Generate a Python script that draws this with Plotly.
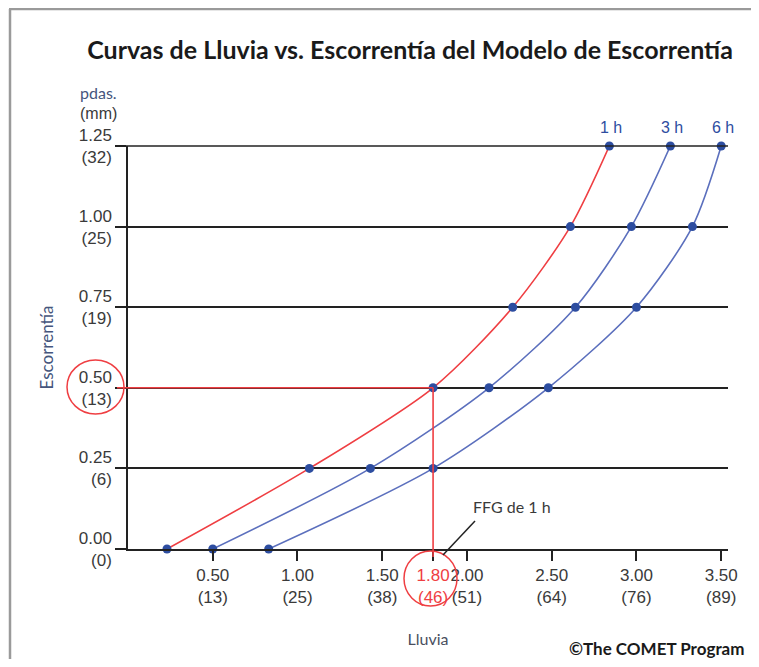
import plotly.graph_objects as go

# runoff (inches) for each curve point, and rainfall (inches) per duration
runoff = [0.00, 0.25, 0.50, 0.75, 1.00, 1.25]
rain_1h = [0.23, 1.07, 1.80, 2.27, 2.61, 2.84]
rain_3h = [0.50, 1.43, 2.13, 2.64, 2.97, 3.20]
rain_6h = [0.83, 1.80, 2.48, 3.00, 3.33, 3.50]
curve_names = ['1 h', '3 h', '6 h']

x_ticks = [0.50, 1.00, 1.50, 1.80, 2.00, 2.50, 3.00, 3.50]
x_mm = ['13', '25', '38', '46', '51', '64', '76', '89']
y_ticks = [0.00, 0.25, 0.50, 0.75, 1.00, 1.25]
y_mm = ['0', '6', '13', '19', '25', '32']

ffg_rain = 1.80
ffg_runoff = 0.50

# the page body adds an 8px margin, so the figure is sized to fit inside it
OFF = 8
W, H = 759 - OFF, 667 - 2 * OFF
L, T = 120, 138
PW, PH = 600, 403
R, B = W - L - PW, H - T - PH
XMAX = 3.54
YMAX = 1.25

RED = '#ef3e42'
BLUE = '#5b6fbd'
DOT = '#2d4da0'
INK = '#3a3a3a'
LABEL = '#45557c'


def px_x(px):
    # page pixel -> paper x
    return (px - OFF - L) / PW


def px_y(py):
    # page pixel -> paper y
    return (T + PH - (py - OFF)) / PH


x_text = []
for v, mm in zip(x_ticks, x_mm):
    if v == ffg_rain:
        x_text.append(f"<span style='color:{RED}'>{v:.2f}</span><br>"
                      f"<span style='color:{RED}'>({mm})</span>")
    else:
        x_text.append(f"{v:.2f}<br>({mm})")
y_text = [f"{v:.2f}<br>({mm})" for v, mm in zip(y_ticks, y_mm)]

fig = go.Figure()

for rain, name, col in zip([rain_1h, rain_3h, rain_6h], curve_names, [RED, BLUE, BLUE]):
    fig.add_trace(go.Scatter(
        x=rain, y=runoff, mode='lines+markers', name=name,
        line={'color': col, 'width': 1.6, 'shape': 'spline', 'smoothing': 0.8},
        marker={'color': DOT, 'size': 9},
        cliponaxis=False, showlegend=False,
    ))
    fig.add_annotation(x=rain[-1], y=runoff[-1], text=name, showarrow=False,
                       xanchor='center', yanchor='middle', yshift=19, xshift=2,
                       font={'family': 'Liberation Sans', 'size': 16, 'color': DOT})

line_k = {'color': '#222222', 'width': 1.5}
shapes = [
    # page frame
    dict(type='line', xref='paper', yref='paper', x0=px_x(10), x1=px_x(10),
         y0=px_y(H + 20), y1=px_y(9), line={'color': '#9a9a9a', 'width': 2.5}),
    dict(type='line', xref='paper', yref='paper', x0=px_x(9), x1=px_x(W + 20),
         y0=px_y(9), y1=px_y(9), line={'color': '#9a9a9a', 'width': 2.5}),
    # top grid line at the upper edge of the plot
    dict(type='line', xref='paper', yref='paper', x0=px_x(117), x1=1,
         y0=1, y1=1, line=line_k),
    # FFG guide lines
    dict(type='line', xref='paper', yref='y', x0=px_x(117), x1=ffg_rain / XMAX,
         y0=ffg_runoff, y1=ffg_runoff, line={'color': RED, 'width': 1.6}),
    dict(type='line', xref='x', yref='paper', x0=ffg_rain, x1=ffg_rain,
         y0=px_y(557), y1=ffg_runoff / YMAX, line={'color': RED, 'width': 1.6}),
    # circles
    dict(type='circle', xref='paper', yref='paper', x0=px_x(67), x1=px_x(124),
         y0=px_y(414), y1=px_y(360), line={'color': RED, 'width': 1.5}),
    dict(type='circle', xref='paper', yref='paper', x0=px_x(404), x1=px_x(457),
         y0=px_y(606), y1=px_y(551), line={'color': RED, 'width': 1.5}),
    # FFG leader
    dict(type='line', xref='paper', yref='paper', x0=px_x(475), x1=px_x(443),
         y0=px_y(521), y1=px_y(555), line=line_k),
]

annotations = [
    dict(x=px_x(512), y=px_y(506), text='FFG de 1 h',
         font={'family': 'Lato', 'size': 16, 'color': INK}),
    dict(x=px_x(98), y=px_y(92), text='pdas.',
         font={'family': 'Lato', 'size': 16, 'color': LABEL}),
    dict(x=px_x(98), y=px_y(113), text='(mm)',
         font={'family': 'Liberation Sans', 'size': 16, 'color': INK}),
    dict(x=px_x(656), y=px_y(648), text='©The COMET Program',
         font={'family': 'Lato', 'size': 17, 'color': '#1a1a1a', 'weight': 'bold'}),
]
for a in annotations:
    fig.add_annotation(xref='paper', yref='paper', showarrow=False,
                       xanchor='center', yanchor='middle', **a)

fig.update_layout(
    width=W, height=H,
    margin={'l': L, 'r': R, 't': T, 'b': B},
    paper_bgcolor='white', plot_bgcolor='white',
    shapes=shapes,
    title={'text': '<b>Curvas de Lluvia vs. Escorrentía del Modelo de Escorrentía</b>',
           'xref': 'container', 'x': (410 - OFF) / W, 'xanchor': 'center',
           'yref': 'container', 'y': 1 - (50 - OFF) / H, 'yanchor': 'middle',
           'font': {'family': 'Lato', 'size': 25, 'color': '#1a1a1a'}},
    font={'family': 'Liberation Sans', 'size': 17, 'color': INK},
)

fig.update_xaxes(
    range=[0, XMAX], tickvals=x_ticks, ticktext=x_text, tickangle=0,
    showgrid=False, zeroline=False, showline=True, linecolor='#222222', linewidth=1.5,
    ticks='outside', ticklen=10, tickwidth=1.5, tickcolor='#222222',
    title={'text': 'Lluvia', 'standoff': 28,
           'font': {'family': 'Lato', 'size': 16, 'color': '#4a4f5e'}},
)
fig.update_yaxes(
    range=[0, YMAX], tickvals=y_ticks, ticktext=y_text,
    showgrid=True, gridcolor='#222222', gridwidth=1.5,
    zeroline=False, showline=True, linecolor='#222222', linewidth=1.5,
    ticks='outside', ticklen=11, tickwidth=1.5, tickcolor='#222222',
    title={'text': 'Escorrentía', 'standoff': 21,
           'font': {'family': 'Lato', 'size': 17, 'color': LABEL}},
)

fig.write_html("out.html")
